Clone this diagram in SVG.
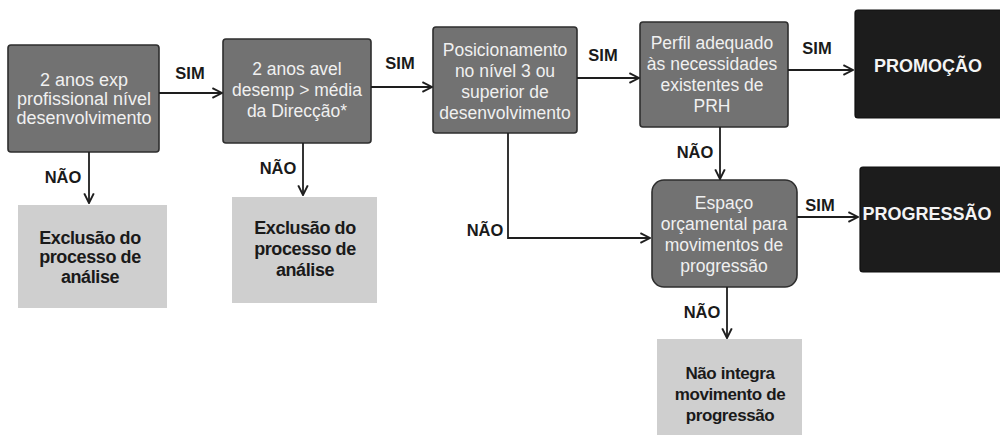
<svg xmlns="http://www.w3.org/2000/svg" width="1000" height="442" viewBox="0 0 1000 442">
<defs>
<marker id="arr" viewBox="0 0 10 10" refX="9" refY="5" markerWidth="12" markerHeight="12" markerUnits="userSpaceOnUse" orient="auto">
<path d="M1,1 L9,5 L1,9" fill="none" stroke="#1e1e1e" stroke-width="1.6"/>
</marker>
</defs>
<style>
.bg{fill:#ffffff}
.gray{fill:#727272;stroke:#2e2e2e;stroke-width:1.6}
.dark{fill:#1c1c1c;stroke:#0e0e0e;stroke-width:1.2}
.light{fill:#cfcfcf}
.gt{font-family:"Liberation Sans",Arial,sans-serif;font-size:17.5px;fill:#f0f0f0;text-anchor:middle;dominant-baseline:central}
.dt{font-family:"Liberation Sans",Arial,sans-serif;font-size:18px;font-weight:bold;fill:#f4f4f4;text-anchor:middle;dominant-baseline:central}
.lt{font-family:"Liberation Sans",Arial,sans-serif;font-size:18px;font-weight:bold;fill:#1a1a1a;text-anchor:middle;dominant-baseline:central;letter-spacing:-0.4px}
.lbl{font-family:"Liberation Sans",Arial,sans-serif;font-size:16.5px;font-weight:bold;fill:#1a1a1a;text-anchor:middle;dominant-baseline:central}
.conn{fill:none;stroke:#1e1e1e;stroke-width:1.8;marker-end:url(#arr)}
</style>
<rect class="bg" x="0" y="0" width="1000" height="442"/>

<g id="n1">
<rect class="gray" x="8" y="45" width="151" height="107" rx="3"/>
<text class="gt" style="font-size:18px" x="84" y="80">2 anos exp</text>
<text class="gt" style="font-size:18px" x="84" y="99">profissional nível</text>
<text class="gt" style="font-size:18px" x="84" y="118">desenvolvimento</text>
</g>

<g id="n2">
<rect class="gray" x="223" y="39" width="148" height="104" rx="3"/>
<text class="gt" x="297" y="69">2 anos avel</text>
<text class="gt" x="297" y="90">desemp &gt; média</text>
<text class="gt" x="297" y="111">da Direcção*</text>
</g>

<g id="n3">
<rect class="gray" x="433" y="27" width="144" height="106" rx="3"/>
<text class="gt" x="505" y="50">Posicionamento</text>
<text class="gt" x="505" y="71">no nível 3 ou</text>
<text class="gt" x="505" y="92">superior de</text>
<text class="gt" x="505" y="113">desenvolvimento</text>
</g>

<g id="n4">
<rect class="gray" x="640" y="22" width="148" height="105" rx="3"/>
<text class="gt" x="712" y="43">Perfil adequado</text>
<text class="gt" x="712" y="64">às necessidades</text>
<text class="gt" x="712" y="85">existentes de</text>
<text class="gt" x="712" y="106">PRH</text>
</g>

<g id="n5">
<rect class="dark" x="855" y="10" width="150" height="108" rx="3"/>
<text class="dt" x="928" y="66">PROMOÇÃO</text>
</g>

<g id="n6">
<rect class="gray" x="652" y="180" width="145" height="107" rx="12"/>
<text class="gt" x="724" y="203">Espaço</text>
<text class="gt" x="724" y="224">orçamental para</text>
<text class="gt" x="724" y="245">movimentos de</text>
<text class="gt" x="724" y="266">progressão</text>
</g>

<g id="n7">
<rect class="dark" x="860" y="167" width="145" height="105" rx="3"/>
<text class="dt" x="927" y="214">PROGRESSÃO</text>
</g>

<g id="n8">
<rect class="light" x="18" y="205" width="149" height="103"/>
<text class="lt" x="90" y="238">Exclusão do</text>
<text class="lt" x="90" y="257">processo de</text>
<text class="lt" x="90" y="277">análise</text>
</g>

<g id="n9">
<rect class="light" x="232" y="197" width="145" height="106"/>
<text class="lt" x="305" y="228">Exclusão do</text>
<text class="lt" x="305" y="249">processo de</text>
<text class="lt" x="305" y="270">análise</text>
</g>

<g id="n10">
<rect class="light" x="657" y="339" width="145" height="96"/>
<text class="lt" style="font-size:17px" x="730" y="373">Não integra</text>
<text class="lt" style="font-size:17px" x="730" y="394">movimento de</text>
<text class="lt" style="font-size:17px" x="730" y="415">progressão</text>
</g>

<g id="connectors">
<path class="conn" d="M159,93 H222"/>
<path class="conn" d="M371,87 H432"/>
<path class="conn" d="M577,78 H639"/>
<path class="conn" d="M788,70 H853"/>
<path class="conn" d="M89,152 V203"/>
<path class="conn" d="M303,143 V195"/>
<path class="conn" d="M508,133 V238 H650"/>
<path class="conn" d="M720,127 V179"/>
<path class="conn" d="M797,217 H858"/>
<path class="conn" d="M727,287 V338"/>
<text class="lbl" x="190" y="73">SIM</text>
<text class="lbl" x="400" y="63">SIM</text>
<text class="lbl" x="603" y="55">SIM</text>
<text class="lbl" x="817" y="48">SIM</text>
<text class="lbl" x="820" y="205">SIM</text>
<text class="lbl" x="63" y="177">NÃO</text>
<text class="lbl" x="278" y="168">NÃO</text>
<text class="lbl" x="485" y="230">NÃO</text>
<text class="lbl" x="695" y="152">NÃO</text>
<text class="lbl" x="702" y="312">NÃO</text>
</g>
</svg>
